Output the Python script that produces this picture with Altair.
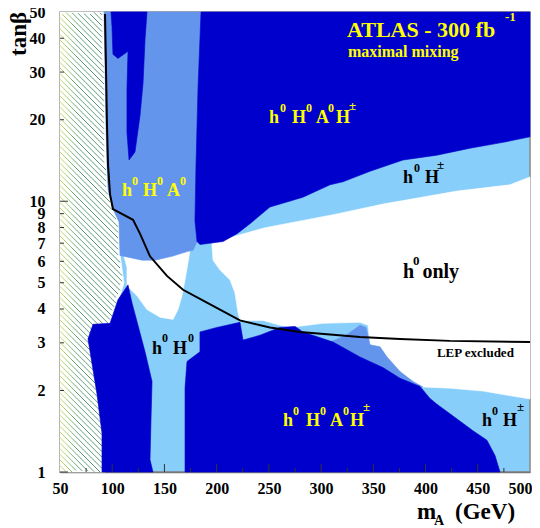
import altair as alt
import numpy as np
import pandas as pd

W, H = 470, 460

# ---------------- data: region outlines (m_A in GeV, tan beta) ----------------
hatch_m = [92.1, 93.1, 94.0, 95.0, 96.0, 100.7, 106.5, 107.4, 111.3, 105.5, 97.9, 93.1, 93.1]
hatch_t = [50, 31.5, 19.1, 13.6, 11.07, 9.36, 8.39, 6.42, 4.99, 4.22, 3.51, 3.02, 1]

white_main_m = [500, 480.8, 430.1, 359.2, 315.2, 246.3, 215.6, 195.5, 195.5, 196.5, 203.2, 212.8, 217.5,
                220.4, 222.3, 244.3, 260.6, 270.2, 286.5, 301.8, 337.2, 344.9, 346.8, 356.4, 363.1,
                375.5, 388.0, 397.5, 423.4, 455.0, 500]
white_main_t = [12.3, 11.5, 10.9, 9.76, 8.98, 7.98, 7.40, 6.98, 6.87, 6.06, 5.57, 5.12, 4.59,
                3.88, 3.63, 3.63, 3.48, 3.42, 3.48, 3.54, 3.57, 3.48, 2.95, 2.90, 2.66,
                2.35, 2.16, 2.06, 2.04, 1.99, 1.86]

white_hole_m = [110.5, 128.5, 141.0, 157.2, 174.5, 172.5, 169.7, 166.8, 163.0, 158.2, 145.7, 133.3, 123.7, 114.1, 114.1]
white_hole_t = [6.4, 6.2, 6.2, 6.4, 6.6, 5.90, 5.12, 4.48, 3.98, 3.66, 3.73, 3.98, 4.48, 4.87, 5.7]

mb_left_m = [92.1, 185.0, 182.1, 180.2, 179.2, 181.2, 177.3, 172.5, 157.2, 141.0, 128.5, 107.4, 107.4,
             106.5, 100.7, 96.0, 95.0, 94.0, 93.1]
mb_left_t = [50, 50, 26.0, 13.6, 8.47, 7.10, 6.58, 6.53, 6.26, 6.06, 6.06, 6.31, 6.42,
             8.39, 9.36, 11.07, 13.6, 19.1, 31.5]

mb_small_m = [308.5, 322.9, 337.2, 343.0, 346.8, 356.4, 363.1, 375.5, 388.0, 397.5, 394.7, 375.5, 359.2, 337.2]
mb_small_t = [3.02, 3.18, 3.48, 3.42, 2.95, 2.90, 2.66, 2.35, 2.16, 2.06, 2.07, 2.22, 2.43, 2.66]

db_tongue_m = [98.8, 133.3, 131.4, 129.5, 126.6, 121.8, 116.1, 114.1, 114.1, 115.1, 105.5, 100.7, 99.8]
db_tongue_t = [50, 50, 39.5, 27.3, 20.7, 15.2, 14.2, 18.0, 26.0, 35.8, 33.7, 34.9, 44.1]

db_top_m = [185.0, 500, 500, 474.1, 442.5, 410.9, 378.4, 346.8, 320.9, 308.5, 282.6, 251.0, 231.9,
            219.5, 206.1, 184.0, 181.2, 179.2, 180.2, 182.1]
db_top_t = [50, 50, 17.3, 16.5, 15.7, 14.8, 14.2, 12.9, 11.8, 11.5, 10.35, 9.52, 8.26,
            7.59, 7.10, 6.92, 7.10, 8.47, 13.6, 26.0]

db_left_m = [115.1, 118.9, 131.4, 138.1, 137.1, 136.2, 139.0, 90.2, 90.2, 85.4, 76.8, 81.6, 97.9, 105.5]
db_left_t = [4.91, 4.22, 2.78, 2.16, 1.55, 1.11, 1, 1, 1.39, 1.94, 3.10, 3.51, 3.54, 4.33]

db_right_m = [169.7, 169.7, 171.6, 184.0, 184.0, 200.3, 222.3, 225.2, 241.5, 260.6, 275.0, 282.6, 311.4,
              337.2, 359.2, 375.5, 394.7, 404.2, 410.9, 423.4, 445.4, 458.8, 466.5, 471.3]
db_right_t = [1, 2.04, 2.56, 2.78, 3.29, 3.42, 3.57, 3.07, 3.20, 3.42, 3.45, 3.29, 3.02,
              2.66, 2.43, 2.22, 2.07, 1.87, 1.78, 1.64, 1.42, 1.31, 1.15, 1]

lep_m = [93.1, 94.0, 95.0, 96.0, 97.9, 100.7, 119.9, 126.6, 136.2, 152.4, 167.8, 190.7, 222.3,
         251.0, 279.8, 337.2, 375.5, 423.4, 500]
lep_t = [49.2, 31.5, 19.1, 13.6, 10.6, 9.36, 8.54, 7.59, 6.26, 5.30, 4.71, 4.22, 3.63,
         3.42, 3.29, 3.15, 3.10, 3.05, 3.02]

x_tick_values = [50, 100, 150, 200, 250, 300, 350, 400, 450, 500]
x_minor_values = [75, 125, 175, 225, 275, 325, 375, 425, 475]
y_tick_values = [1, 2, 3, 4, 5, 6, 7, 8, 9, 10, 20, 30, 40, 50]
y_major_values = [1, 10]
y_minor_values = [2, 3, 4, 5, 6, 7, 8, 9, 20, 30, 40]

# labels: text, m_A, tan beta, font size, colour
YEL = "#FFFF00"
label_text = ["h", "0", "H", "0", "A", "0", "H", "\u00b1",
              "h", "0", "H", "0", "A", "0",
              "h", "0", "H", "\u00b1",
              "h", "0", "only",
              "h", "0", "H", "0",
              "h", "0", "H", "0", "A", "0", "H", "\u00b1",
              "h", "0", "H", "\u00b1",
              "LEP excluded",
              "ATLAS - 300 fb", "-1", "maximal mixing",
              "m", "A", "(GeV)"]
label_m = [250.1, 260.6, 272.1, 285.5, 295.1, 306.6, 314.2, 326.7,
           109.4, 118.9, 129.5, 142.9, 152.4, 164.9,
           378.4, 388.9, 399.5, 410.9,
           378.4, 388.0, 397.0,
           138.1, 147.7, 158.2, 172.5,
           263.5, 273.1, 285.5, 298.9, 308.5, 320.9, 327.6, 340.1,
           454.0, 463.6, 474.1, 487.5,
           410.9,
           324.8, 476.0, 325.7,
           391.8, 408.1, 428.2]
label_t = [19.4, 21.4, 19.4, 21.4, 19.4, 21.4, 19.4, 21.8,
           10.44, 11.45, 10.44, 11.45, 10.44, 11.45,
           11.64, 12.87, 11.64, 13.2,
           5.21, 5.81, 5.21,
           2.73, 3.02, 2.73, 3.02,
           1.48, 1.625, 1.48, 1.625, 1.48, 1.625, 1.48, 1.68,
           1.48, 1.625, 1.48, 1.68,
           2.66,
           40.5, 46.5, 34.0,
           0.672, 0.638, 0.672]
label_size = [18, 12, 18, 12, 18, 12, 18, 13,
              18, 12, 18, 12, 18, 12,
              18, 12, 18, 13,
              20, 13, 20,
              18, 12, 18, 12,
              18, 12, 18, 12, 18, 12, 18, 13,
              18, 12, 18, 13,
              13,
              22, 13, 16,
              23, 14, 23]
label_color = [YEL] * 8 + [YEL] * 6 + ["black"] * 4 + ["black"] * 3 + ["black"] * 4 + \
              [YEL] * 8 + ["black"] * 4 + ["black"] + [YEL] * 3 + ["black"] * 3

LB, MB, DB = "#87CEFA", "#6495ED", "#0000CC"
FONT = "Liberation Serif"

xs = alt.Scale(domain=[50, 500], nice=False, zero=False)
ys = alt.Scale(type="log", domain=[1, 50], nice=False)
x_axis = alt.Axis(values=x_tick_values, ticks=False, grid=False, labelFlush=False,
                  labelFont=FONT, labelFontWeight="bold", labelFontSize=16,
                  labelAlign=alt.ConditionalAxisLabelAlign(
                      condition={"test": "datum.value >= 500", "value": "right"}, value="center"),
                  labelOffset=alt.ConditionalAxisNumber(
                      condition={"test": "datum.value >= 500", "value": 2}, value=0),
                  labelColor="black", labelPadding=8, domainColor="#777", domainWidth=1.5)
y_axis = alt.Axis(values=y_tick_values, ticks=False, grid=False, labelFlush=False,
                  labelOverlap=False, labelExpr="datum.value", labelBound=False,
                  labelFont=FONT, labelFontWeight="bold", labelFontSize=16,
                  labelColor="black", labelPadding=15, domainColor="#777", domainWidth=1.5)


def XE(field="m"):
    return alt.X(f"{field}:Q", scale=xs, axis=x_axis, title=None)


def YE(field="t"):
    return alt.Y(f"{field}:Q", scale=ys, axis=y_axis, title=None)


def poly_df(polys):
    rows = []
    for pid, (ms, ts) in enumerate(polys):
        for i, (m, t) in enumerate(zip(ms, ts)):
            rows.append({"pid": pid, "i": i, "m": m, "t": t})
    return pd.DataFrame(rows)


def poly_layer(polys, color):
    return alt.Chart(poly_df(polys)).mark_line(
        fill=color, stroke=color, strokeWidth=0.6, interpolate="linear-closed"
    ).encode(x=XE(), y=YE(), detail="pid:N", order="i:Q")


# hatch region (white) polygon
hatch_poly = ([50] + hatch_m + [50], [50] + hatch_t + [1])

# hatch lines, clipped to the hatch region, in pixel space
log50 = np.log10(50)
hb_px = (np.array(hatch_m) - 50) / 450 * W
hb_py = (log50 - np.log10(np.array(hatch_t))) / log50 * H
segs = []
step = 2.0
pxs = np.arange(0, 135, step)
for c in np.arange(-140, H, 5.6):
    pys = pxs + c
    ok = (pys >= 0) & (pys <= H) & (pxs <= np.interp(pys, hb_py, hb_px) - 1)
    for k in range(len(pxs) - 1):
        if ok[k] and ok[k + 1]:
            segs.append((pxs[k], pys[k], pxs[k + 1], pys[k + 1]))
segs = np.array(segs)
hatch_df = pd.DataFrame({
    "m": 50 + segs[:, 0] / W * 450,
    "t": 10 ** (log50 * (1 - segs[:, 1] / H)),
    "m2": 50 + segs[:, 2] / W * 450,
    "t2": 10 ** (log50 * (1 - segs[:, 3] / H)),
})
hatch_df["mm"] = (hatch_df["m"] + hatch_df["m2"]) / 2

hatch_lines = alt.Chart(hatch_df).mark_rule(strokeWidth=1).encode(
    x=XE(), y=YE(), x2="m2:Q", y2="t2:Q",
    color=alt.Color("mm:Q", legend=None,
                    scale=alt.Scale(domain=[50, 57, 66, 100],
                                    range=["#c6e25a", "#a2cc68", "#5e9e7a", "#4f8f6e"])),
)

base = poly_layer([hatch_poly], "#FFFFFF")
whites = poly_layer([(white_main_m, white_main_t), (white_hole_m, white_hole_t)], "#FFFFFF")
mbs = poly_layer([(mb_left_m, mb_left_t), (mb_small_m, mb_small_t)], MB)
dbs = poly_layer([(db_tongue_m, db_tongue_t), (db_top_m, db_top_t),
                  (db_left_m, db_left_t), (db_right_m, db_right_t)], DB)

# inside ticks
xt_major = alt.Chart(pd.DataFrame({"m": x_tick_values[1:-1]})).mark_rule(color="#333", strokeWidth=1).encode(
    x=XE(), y=alt.value(H), y2=alt.value(H - 8))
xt_minor = alt.Chart(pd.DataFrame({"m": x_minor_values})).mark_rule(color="#333", strokeWidth=1).encode(
    x=XE(), y=alt.value(H), y2=alt.value(H - 4))
yt_major = alt.Chart(pd.DataFrame({"t": y_major_values})).mark_rule(color="#333", strokeWidth=1).encode(
    y=YE(), x=alt.value(0), x2=alt.value(8))
yt_minor = alt.Chart(pd.DataFrame({"t": y_minor_values})).mark_rule(color="#333", strokeWidth=1).encode(
    y=YE(), x=alt.value(0), x2=alt.value(4))

lep = alt.Chart(pd.DataFrame({"m": lep_m, "t": lep_t, "i": range(len(lep_m))})).mark_line(
    color="black", strokeWidth=2).encode(x=XE(), y=YE(), order="i:Q")

labels_df = pd.DataFrame({"txt": label_text, "m": label_m, "t": label_t,
                          "sz": label_size, "col": label_color})
labels = alt.Chart(labels_df).mark_text(font=FONT, fontWeight="bold", align="left",
                                        baseline="alphabetic").encode(
    x=XE(), y=YE(), text="txt:N", size=alt.Size("sz:Q", scale=None),
    color=alt.Color("col:N", scale=None))

ytitle = alt.Chart(pd.DataFrame({"txt": ["tan\u03b2"], "m": [17.4], "t": [34.4]})).mark_text(
    font=FONT, fontWeight="bold", fontSize=23, align="left", baseline="alphabetic",
    color="black").encode(x=XE(), y=YE(), text="txt:N", angle=alt.value(270))

chart = alt.layer(base, hatch_lines, whites, mbs, dbs, xt_major, xt_minor, yt_major, yt_minor,
                  lep, labels, ytitle).properties(
    width=W, height=H,
    autosize=alt.AutoSizeParams(type="none"),
    padding={"left": 52, "top": 4, "right": 2, "bottom": 56},
).configure_view(fill=LB, stroke="#888", strokeWidth=1.5)

chart.save("out.html", embed_options={"renderer": "svg", "actions": False})
